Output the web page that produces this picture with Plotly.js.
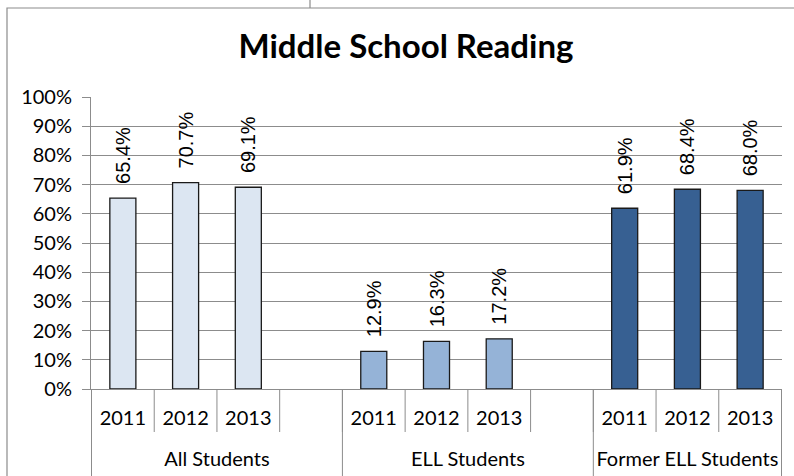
<!DOCTYPE html>
<html>
<head>
<meta charset="utf-8">
<script src="https://cdn.plot.ly/plotly-3.0.1.min.js"></script>
<style>
  html, body { margin: 0; padding: 0; background: #fff; }
  #chart { width: 794px; height: 476px; }
</style>
</head>
<body>
<div id="chart"></div>
<script>
// ---- data ----
const groups = ["All Students", "ELL Students", "Former ELL Students"];
const years = ["2011", "2012", "2013"];
const allStudents = [65.4, 70.7, 69.1];
const ellStudents = [12.9, 16.3, 17.2];
const formerEll = [61.9, 68.4, 68.0];
const yTickVals = [0, 10, 20, 30, 40, 50, 60, 70, 80, 90, 100];
const yTickText = ["0%", "10%", "20%", "30%", "40%", "50%", "60%", "70%", "80%", "90%", "100%"];
const chartTitle = "Middle School Reading";

// ---- styles ----
const series = [allStudents, ellStudents, formerEll];
const colors = ["#DCE6F2", "#95B3D7", "#376092"];
const gridGray = "#8c8c8c";
const tickFont = { family: "Lato, 'Open Sans', sans-serif", size: 20, color: "#000" };

const M = { l: 91, r: 12, t: 97, b: 87 };
const plotH = 476 - M.t - M.b;
const plotW = 794 - M.l - M.r;

// year labels get an extra blank line so the group level sits lower (layout only)
const yearLabel = y => y + "<br>\u00a0";

const traces = [];
const boundaries = [];
const groupBounds = [-0.5];
let slot = 0;
groups.forEach((g, gi) => {
  const isLast = gi === groups.length - 1;
  const yrs = (isLast ? years.slice() : years.concat(["\u00a0"])).map(yearLabel);
  const vals = isLast ? series[gi].slice() : series[gi].concat([null]);
  traces.push({
    type: "bar",
    x: [yrs.map(() => g), yrs],
    y: vals,
    marker: { color: colors[gi], line: { color: "#1a1a1a", width: 1.3 } },
    texttemplate: "\u00a0\u00a0%{y:.1f}%",
    textposition: "outside",
    textangle: -90,
    constraintext: "none",
    cliponaxis: false,
    textfont: { family: "'Liberation Sans', Arial, sans-serif", size: 20, color: "#000" },
    hoverinfo: "skip",
    showlegend: false
  });
  slot += yrs.length;
  groupBounds.push(slot - 0.5);
});
for (let i = 0; i <= slot; i++) boundaries.push(i - 0.5);

const shapes = [];
boundaries.forEach(b => {
  shapes.push({ type: "line", xref: "x", yref: "paper", x0: b, x1: b, y0: 0, y1: -43 / plotH,
    line: { color: gridGray, width: 1 } });
});
groupBounds.forEach(b => {
  shapes.push({ type: "line", xref: "x", yref: "paper", x0: b, x1: b, y0: 0, y1: -(M.b + 10) / plotH,
    line: { color: gridGray, width: 1 } });
});
// outer chart-area border
shapes.push({ type: "rect", xref: "paper", yref: "paper",
  x0: (7 - M.l) / plotW, x1: (810 - M.l) / plotW,
  y0: -(M.b + 20) / plotH, y1: (476 - M.b - 8) / plotH,
  line: { color: gridGray, width: 1.2 }, fillcolor: "rgba(0,0,0,0)" });
shapes.push({ type: "line", xref: "paper", yref: "paper",
  x0: (310 - M.l) / plotW, x1: (310 - M.l) / plotW,
  y0: (476 - M.b - 8) / plotH, y1: (476 - M.b + 5) / plotH,
  line: { color: gridGray, width: 1.2 } });

const layout = {
  width: 794, height: 476,
  margin: M,
  paper_bgcolor: "#fff", plot_bgcolor: "#fff",
  barmode: "overlay",
  bargap: 0.585,
  title: {
    text: "<b>" + chartTitle + "</b>",
    font: { family: "Lato, 'Open Sans', sans-serif", size: 33, color: "#000" },
    xref: "container", yref: "container", x: 406 / 794, xanchor: "center",
    y: 1 - 46 / 476, yanchor: "middle"
  },
  xaxis: {
    type: "multicategory",
    showline: true, linecolor: gridGray, linewidth: 1,
    ticks: "",
    ticklabelstandoff: 11,
    showgrid: false, showdividers: false,
    tickfont: tickFont,
    fixedrange: true
  },
  yaxis: {
    range: [0, 100],
    tickvals: yTickVals,
    ticktext: yTickText,
    showline: true, linecolor: gridGray, linewidth: 1,
    ticks: "outside", ticklen: 8, tickcolor: gridGray,
    showgrid: true, gridcolor: gridGray, gridwidth: 1,
    zeroline: false,
    tickfont: tickFont,
    ticklabelstandoff: 6,
    fixedrange: true
  },
  shapes: shapes
};

Plotly.newPlot("chart", traces, layout, { displayModeBar: false, staticPlot: true });
</script>
</body>
</html>
